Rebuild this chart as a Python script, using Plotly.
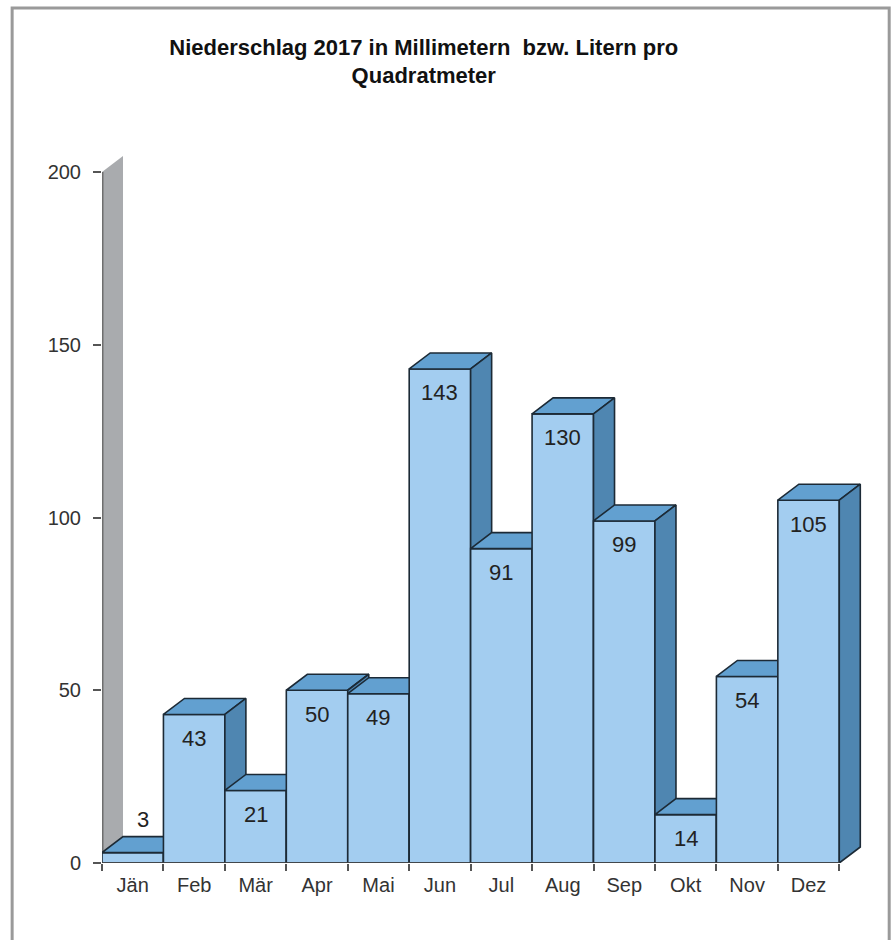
import plotly.graph_objects as go

months = ["Jän", "Feb", "Mär", "Apr", "Mai", "Jun", "Jul", "Aug", "Sep", "Okt", "Nov", "Dez"]
values = [3, 43, 21, 50, 49, 143, 91, 130, 99, 14, 54, 105]
y_ticks = [0, 50, 100, 150, 200]
title_text = "Niederschlag 2017 in Millimetern  bzw. Litern pro<br>Quadratmeter"

FRONT = "#a3cdf0"
TOP = "#62a0d0"
SIDE = "#4f86b1"
EDGE = "#1c2a36"
WALL = "#a9abae"
FONT = "Liberation Sans, Arial, sans-serif"

DX = 0.342   # depth offset in category units
DY = 4.63    # depth offset in value units
Y_MAX = 200

fig = go.Figure()

# back wall
x0 = -0.5
fig.add_trace(go.Scatter(
    x=[x0, x0, x0 + DX, x0 + DX, x0], y=[0, Y_MAX, Y_MAX + DY, DY, 0],
    fill="toself", fillcolor=WALL, mode="lines", line=dict(width=0),
    hoverinfo="skip", showlegend=False))
fig.add_trace(go.Scatter(
    x=[x0, x0], y=[0, Y_MAX], mode="lines", line=dict(color="#6e6e6e", width=3),
    hoverinfo="skip", showlegend=False))


def poly(xs, ys, color):
    fig.add_trace(go.Scatter(
        x=xs + [xs[0]], y=ys + [ys[0]], fill="toself", fillcolor=color,
        mode="lines", line=dict(color=EDGE, width=1.6),
        hoverinfo="skip", showlegend=False))


for i, v in enumerate(values):
    l, r = i - 0.5, i + 0.5
    poly([l, r, r, l], [0, 0, v, v], FRONT)
    poly([l, r, r + DX, l + DX], [v, v, v + DY, v + DY], TOP)
    poly([r, r, r + DX, r + DX], [0, v, v + DY, DY], SIDE)

# baseline
fig.add_trace(go.Scatter(
    x=[-0.5, len(values) - 0.5], y=[0, 0], mode="lines",
    line=dict(color="#444444", width=1.5), hoverinfo="skip", showlegend=False))

# data labels
for i, v in enumerate(values):
    if v < 10:
        fig.add_annotation(x=i + DX / 2, y=v, text=str(v), showarrow=False,
                           yshift=33, font=dict(size=22, color="#222222", family=FONT))
    else:
        fig.add_annotation(x=i, y=v, text=str(v), showarrow=False,
                           yshift=-24, font=dict(size=22, color="#222222", family=FONT))

fig.update_layout(
    width=894, height=940,
    paper_bgcolor="white", plot_bgcolor="white",
    margin=dict(l=102, r=24, t=140, b=77),
    title=dict(text=title_text, x=0.474, xanchor="center", y=0.942, yanchor="top",
               font=dict(size=22, color="#111111", family=FONT, weight="bold")),
    font=dict(family=FONT, color="#333333"),
    shapes=[dict(type="rect", xref="paper", yref="paper", x0=-0.117, x1=1.025,
                 y0=-0.2, y1=1.1826, line=dict(color="#9a9a9a", width=3),
                 fillcolor="rgba(0,0,0,0)", layer="below")],
)

fig.update_xaxes(
    range=[-0.5, 12.0], tickmode="array",
    tickvals=list(range(len(months))), ticktext=months, ticks="",
    showgrid=False, zeroline=False, showline=False,
    tickfont=dict(size=20, color="#333333", family=FONT), ticklabelstandoff=8,
    minor=dict(tickmode="array", tickvals=[i - 0.5 for i in range(len(months) + 1)],
               ticks="outside", ticklen=7, tickcolor="#555555", tickwidth=1.5, showgrid=False),
    fixedrange=True,
)
fig.update_yaxes(
    range=[0, 209.26], tickmode="array", tickvals=y_ticks,
    ticks="outside", ticklen=8, tickcolor="#555555", tickwidth=1.5,
    showgrid=False, zeroline=False, showline=False,
    tickfont=dict(size=20, color="#333333", family=FONT), ticklabelstandoff=8,
    fixedrange=True,
)

fig.write_html("out.html")
